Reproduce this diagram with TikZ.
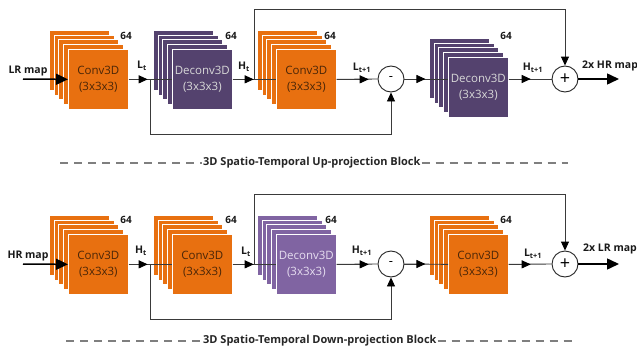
\documentclass[tikz,border=0pt]{standalone}
\usepackage{fontspec}
\setmainfont{Open Sans}
\usetikzlibrary{arrows.meta,calc}
\definecolor{orng}{HTML}{E87010}
\definecolor{dpurp}{HTML}{54426E}
\definecolor{lpurp}{HTML}{8064A2}
\definecolor{otext}{HTML}{4A2608}
\definecolor{dptext}{HTML}{D8D8D8}
\definecolor{lptext}{HTML}{E6DEF0}
\definecolor{wire}{HTML}{3A3A3A}
\definecolor{dashc}{HTML}{7F7F7F}
\tikzset{
  layer/.style={draw=white, line width=0.7pt},
  frontbox/.style={layer, minimum width=60pt, minimum height=60pt, inner sep=0pt,
    anchor=north west, align=center, font=\fontsize{11.5}{16}\selectfont},
  wirel/.style={draw=wire, line width=0.9pt},
  tipsmall/.style={-{Triangle[length=9pt,width=8pt,color=black]}},
  thickarrow/.style={draw=black, line width=1.5pt, -{Triangle[length=12pt,width=11pt]}},
  opnode/.style={circle, draw=black!85, line width=0.9pt, fill=white, minimum size=26pt, inner sep=0pt},
  lbl/.style={font=\fontsize{10.5}{12}\bfseries\selectfont, inner sep=0pt, text=black!90},
  numlbl/.style={font=\fontsize{10}{12}\bfseries\selectfont, inner sep=0pt, text=black!90},
  captxt/.style={font=\fontsize{11}{12}\bfseries\selectfont, inner sep=1pt, text=black!85},
  dashln/.style={draw=dashc, line width=1.2pt, dash pattern=on 8pt off 6pt}
}
\newcommand{\blockstack}[7]{%
  \foreach \k in {4,3,2,1}{\fill[#4, layer] ({#2-\k*4.6},{#3-\k*4.6}) rectangle ++(60,60);}
  \node[frontbox, fill=#4, text=#5] (#1) at (#2,#3) {#6\\#7};
}
% wire from A to B with an arrowhead whose tip lies #3 pt after A
\newcommand{\midwire}[3]{%
  \draw[wirel] (#1) -- (#2);
  \draw[wirel, tipsmall] (#1) -- ++(#3,0);
}
\begin{document}
\begin{tikzpicture}[x=1pt,y=-1pt]
\useasboundingbox (0,0) rectangle (637,348);
% ================= TOP: Up-projection =================
\blockstack{c1}{68}{49}{orng}{otext}{Conv3D}{(3x3x3)}
\blockstack{d1}{172}{49}{dpurp}{dptext}{Deconv3D}{(3x3x3)}
\blockstack{c3}{276}{49}{orng}{otext}{Conv3D}{(3x3x3)}
\blockstack{d2}{448}{57}{dpurp}{dptext}{Deconv3D}{(3x3x3)}
\node[numlbl] (n1) at (126,36) {64};
\node[numlbl] (n2) at (231,36) {64};
\node[numlbl] (n3) at (330,36) {64};
\node[numlbl] (n4) at (506,36) {64};
\node[opnode, font=\fontsize{13}{13}\selectfont] (m1) at (391,79) {-};
\node[opnode, font=\fontsize{18}{18}\selectfont] (p1) at (565,79) {+};
\coordinate (in1) at (23,79);
\coordinate (out1) at (619,79);
\coordinate (b1) at (150,79);
\coordinate (b2) at (254,79);
\draw[thickarrow] (in1) -- (c1.west);
\midwire{c1.east}{d1.west}{19}
\midwire{d1.east}{c3.west}{21}
\midwire{c3.east}{m1.west}{32}
\midwire{m1.east}{m1.east -| d2.west}{21}
\midwire{d2.east |- p1.west}{p1.west}{22}
\draw[thickarrow] (p1.east) -- (out1);
\draw[wirel, tipsmall] (b1) -- ++(0,55) -| (m1.south);
\draw[wirel, tipsmall] (b2) -- ++(0,-70) -| (p1.north);
\node[lbl] (t1) at (28,71) {LR map};
\node[lbl] (t2) at (142,66) {L\textsubscript{t}};
\node[lbl] (t3) at (244,67) {H\textsubscript{t}};
\node[lbl] (t4) at (362,68) {L\textsubscript{t+1}};
\node[lbl] (t5) at (533,68) {H\textsubscript{t+1}};
\node[lbl, anchor=west] (t6) at (582,66) {2x HR map};
\node[captxt, anchor=west] (cap1) at (202,163) {3D Spatio-Temporal Up-projection Block};
\draw[dashln] (60,163) -- (cap1.west);
\draw[dashln] (cap1.east) -- (568,163);
% ================= BOTTOM: Down-projection =================
\blockstack{e1}{68}{234}{orng}{otext}{Conv3D}{(3x3x3)}
\blockstack{e2}{172}{234}{orng}{otext}{Conv3D}{(3x3x3)}
\blockstack{e3}{276}{234}{lpurp}{lptext}{Deconv3D}{(3x3x3)}
\blockstack{e4}{448}{234}{orng}{otext}{Conv3D}{(3x3x3)}
\node[numlbl] (k1) at (126,220) {64};
\node[numlbl] (k2) at (231,220) {64};
\node[numlbl] (k3) at (331,220) {64};
\node[numlbl] (k4) at (506,220) {64};
\node[opnode, font=\fontsize{13}{13}\selectfont] (m2) at (391,264) {-};
\node[opnode, font=\fontsize{18}{18}\selectfont] (p2) at (565,264) {+};
\coordinate (in2) at (23,264);
\coordinate (out2) at (619,264);
\coordinate (b3) at (150,264);
\coordinate (b4) at (254,264);
\draw[thickarrow] (in2) -- (e1.west);
\midwire{e1.east}{e2.west}{19}
\midwire{e2.east}{e3.west}{21}
\midwire{e3.east}{m2.west}{32}
\midwire{m2.east}{e4.west}{21}
\midwire{e4.east}{p2.west}{22}
\draw[thickarrow] (p2.east) -- (out2);
\draw[wirel, tipsmall] (b3) -- ++(0,55) -| (m2.south);
\draw[wirel, tipsmall] (b4) -- ++(0,-70) -| (p2.north);
\node[lbl] (s1) at (28,256) {HR map};
\node[lbl] (s2) at (141,251) {H\textsubscript{t}};
\node[lbl] (s3) at (246,252) {L\textsubscript{t}};
\node[lbl] (s4) at (362,251) {H\textsubscript{t+1}};
\node[lbl] (s5) at (533,254) {L\textsubscript{t+1}};
\node[lbl, anchor=west] (s6) at (583,249) {2x LR map};
\node[captxt, anchor=west] (cap2) at (202,341) {3D Spatio-Temporal Down-projection Block};
\draw[dashln] (66,341) -- (cap2.west);
\draw[dashln] (cap2.east) -- (575,341);
\end{tikzpicture}
\end{document}
